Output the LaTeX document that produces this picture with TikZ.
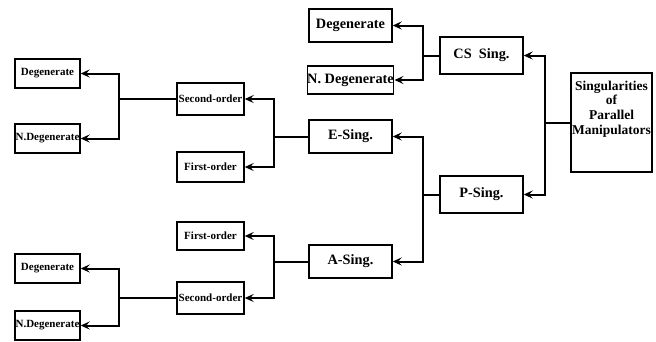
\documentclass[tikz,border=0pt]{standalone}
\usepackage{fontspec}
\setmainfont{Liberation Serif}
\usetikzlibrary{arrows.meta}
\begin{document}
\begin{tikzpicture}[x=1pt,y=-1pt,
  box/.style={draw,line width=1.4pt,inner sep=0pt,font=\bfseries\fontsize{14.3}{16}\selectfont},
  sbox/.style={box,font=\bfseries\fontsize{11}{12}\selectfont},
  arr/.style={line width=2pt,-{Stealth[length=9pt,width=8pt,inset=3.5pt]}}]
\useasboundingbox (0,0) rectangle (656,341);
% right column
\node[box,minimum width=81pt,minimum height=99pt] (root) at (611.5,122.5) {};
\node[font=\bfseries\fontsize{13.5}{14.7}\selectfont,align=center,inner sep=0pt] (roottext) at (611.5,109) {Singularities\\of\\Parallel\\Manipulators};
\node[box,minimum width=83pt,minimum height=37pt] (cs) at (481.5,55.5) {CS~~Sing.};
\node[box,minimum width=83pt,minimum height=37pt] (psing) at (481.5,194.5) {P-Sing.};
\node[box,minimum width=83pt,minimum height=33pt] (deg1) at (350.5,25.5) {Degenerate};
\node[box,minimum width=83pt,minimum height=28pt] (ndeg1) at (350.5,80) {N. Degenerate};
\node[box,minimum width=83pt,minimum height=33pt] (esing) at (350.5,136.5) {E-Sing.};
\node[box,minimum width=83pt,minimum height=33pt] (asing) at (350.5,261.5) {A-Sing.};
% middle column
\node[sbox,minimum width=67pt,minimum height=32pt] (so1) at (210.5,99) {Second-order};
\node[sbox,minimum width=67pt,minimum height=30pt] (fo1) at (210.5,167) {First-order};
\node[sbox,minimum width=67pt,minimum height=28pt] (fo2) at (210.5,236) {First-order};
\node[sbox,minimum width=67pt,minimum height=32pt] (so2) at (210.5,298) {Second-order};
% left column
\node[sbox,minimum width=65pt,minimum height=29pt] (dl1) at (47.5,73.5) {Degenerate};
\node[sbox,minimum width=65pt,minimum height=29pt] (ndl1) at (47.5,138.5) {N.Degenerate};
\node[sbox,minimum width=65pt,minimum height=29pt] (dl2) at (47.5,268.5) {Degenerate};
\node[sbox,minimum width=65pt,minimum height=29pt] (ndl2) at (47.5,325.5) {N.Degenerate};
% connectors
\draw[arr] (root.west) -- ++(-25,0) coordinate (jr) |- (cs.east);
\draw[arr] (jr) |- (psing.east);
\draw[arr] (cs.west) -- ++(-16,0) coordinate (jc) |- (deg1.east);
\draw[arr] (jc) |- (ndeg1.east);
\draw[arr] (psing.west) -- ++(-16,0) coordinate (jp) |- (esing.east);
\draw[arr] (jp) |- (asing.east);
\draw[arr] (esing.west) -- ++(-34,0) coordinate (je) |- (so1.east);
\draw[arr] (je) |- (fo1.east);
\draw[arr] (asing.west) -- ++(-34,0) coordinate (ja) |- (fo2.east);
\draw[arr] (ja) |- (so2.east);
\draw[arr] (so1.west) -- ++(-57,0) coordinate (js1) |- (dl1.east);
\draw[arr] (js1) |- (ndl1.east);
\draw[arr] (so2.west) -- ++(-57,0) coordinate (js2) |- (dl2.east);
\draw[arr] (js2) |- (ndl2.east);
\end{tikzpicture}
\end{document}
